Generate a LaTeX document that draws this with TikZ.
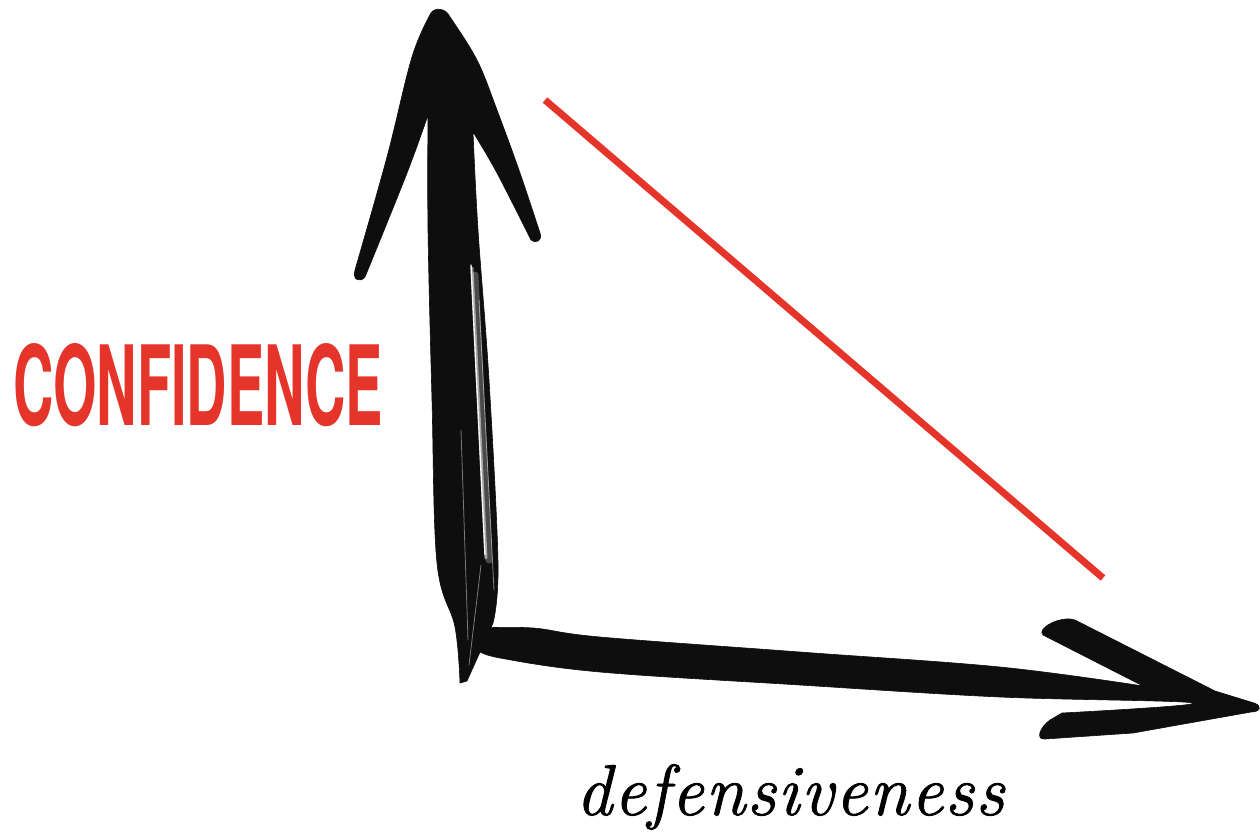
\documentclass[tikz,border=0pt]{standalone}
\usepackage{fontspec}
\setmainfont{Latin Modern Roman}
\newfontfamily\condfont{TeX Gyre Heros}
\newfontfamily\labelfont{Latin Modern Roman}[FakeBold=1.2, LetterSpace=2.5]
\definecolor{ink}{HTML}{0E0E0E}
\definecolor{redline}{HTML}{E5352A}
\tikzset{
  brush/.style={fill=ink, draw=ink, line width=0.6pt, line join=round},
  streak/.style={draw=white, line cap=round},
  redstroke/.style={draw=redline, line width=7pt},
  axislabel/.style={inner sep=0pt, outer sep=0pt},
}
\begin{document}
\begin{tikzpicture}[x=1pt,y=-1pt]
\useasboundingbox (0,0) rectangle (1260,835);
\fill[white] (0,0) rectangle (1260,835);

% vertical brush arrow
\path[brush] (431,13) .. controls (435,7) and (446,8) .. (450,17)
  -- plot[smooth, tension=0.6] coordinates {(450,17) (477,60) (497,110) (520,173) (540,233)}
  .. controls (543,241) and (535,244) .. (531,240)
  -- plot[smooth, tension=0.6] coordinates {(531,240) (497,173) (473,132)}
  -- plot[smooth, tension=0.6] coordinates {(473,132) (478,230) (489,380) (498,563) (493,623)}
  -- (467,681) -- (460,683)
  -- plot[smooth, tension=0.6] coordinates {(460,683) (455,627) (437,563) (432,400) (428,230) (428,115)}
  -- plot[smooth, tension=0.6] coordinates {(428,115) (407,173) (365,277)}
  .. controls (360,283) and (352,280) .. (355,270)
  -- plot[smooth, tension=0.6] coordinates {(355,270) (387,157) (412,57) (431,13)} -- cycle;
% brush texture
\draw[streak, line width=7pt, opacity=.25] (475,275) -- (489,560);
\draw[streak, line width=3pt, opacity=.5] (472,268) -- (486,558);
\draw[streak, line width=1.4pt, opacity=.9] (471,265) -- (485,555);
\draw[streak, line width=0.8pt, opacity=.5] (479,300) -- (494,590);
\draw[streak, line width=0.8pt, opacity=.45] (461,430) -- (468,640);
\draw[streak, line width=0.8pt, opacity=.45] (481,565) -- (469,665);

% horizontal brush arrow
\path[brush] plot[smooth, tension=0.6] coordinates {(478,628) (533,628) (600,637) (800,652) (1000,667) (1143,686)}
  -- (1043,635) .. controls (1036,629) and (1060,615) .. (1075,620)
  -- (1215,691) -- (1254,703) .. controls (1263,706) and (1260,712) .. (1251,712)
  -- (1133,733) -- (1045,739) .. controls (1035,740) and (1040,727) .. (1050,720) -- (1062,713)
  -- plot[smooth, tension=0.6] coordinates {(1062,713) (1193,703) (1000,697) (800,685) (600,672) (500,658) (478,650)} -- cycle;

% red line
\coordinate (r1) at (545,100);
\coordinate (r2) at (1103,578);
\draw[redstroke] (r1) -- (r2);

% labels
\node[axislabel, anchor=south west, text=redline] (conf) at (13,427)
  {\resizebox{370pt}{82pt}{\condfont\bfseries CONFIDENCE}};
\node[axislabel, anchor=base west] (def) at (576,815)
  {\labelfont\fontsize{72}{80}\selectfont\itshape defensiveness};
\end{tikzpicture}
\end{document}
